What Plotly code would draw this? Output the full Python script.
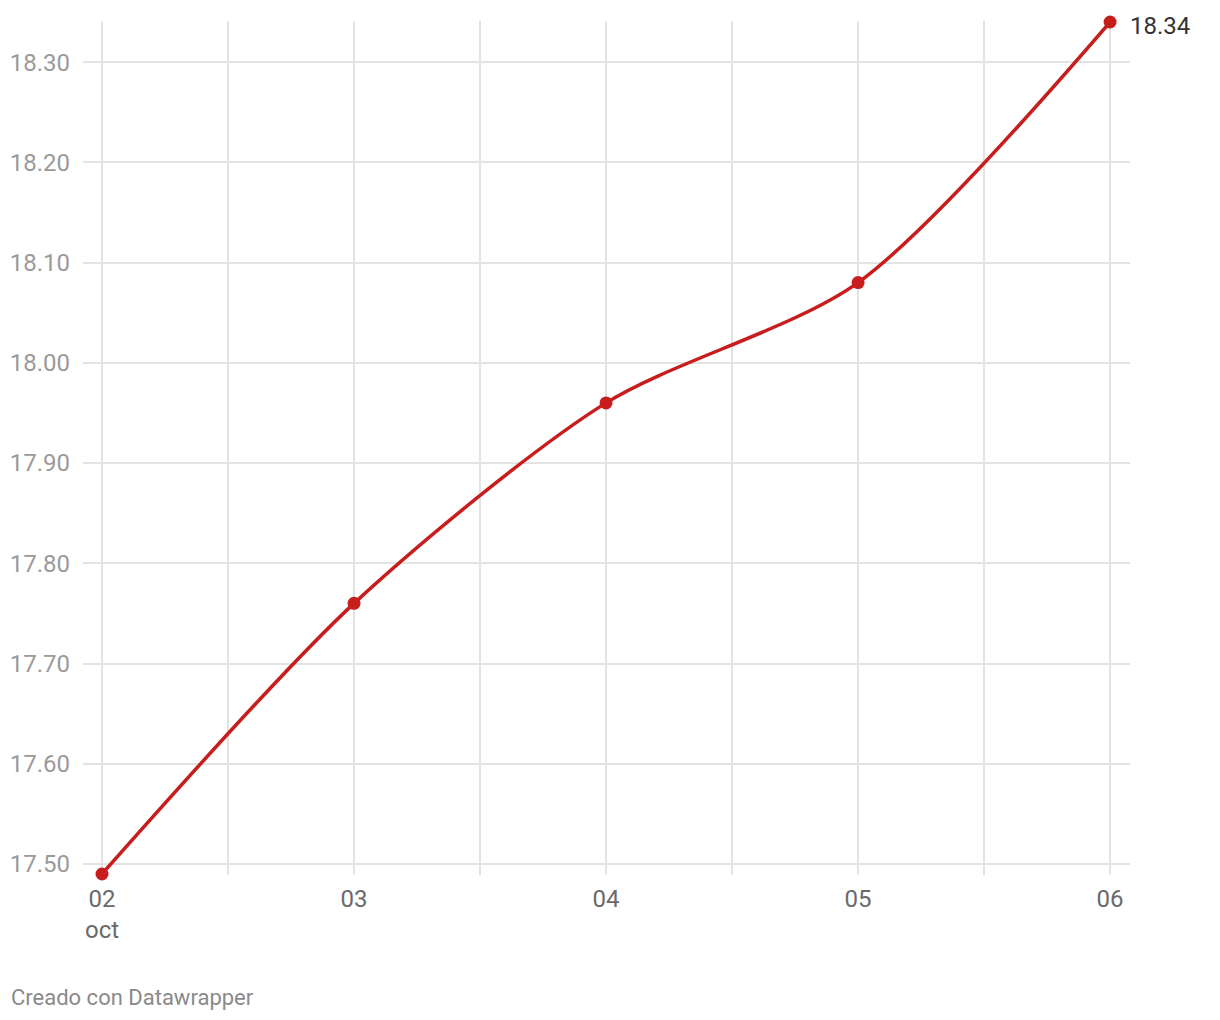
import plotly.graph_objects as go

days = ["02", "03", "04", "05", "06"]
values = [17.49, 17.76, 17.96, 18.08, 18.34]
y_ticks = [17.5, 17.6, 17.7, 17.8, 17.9, 18.0, 18.1, 18.2, 18.3]
y_ticktext = ["17.50", "17.60", "17.70", "17.80", "17.90", "18.00", "18.10", "18.20", "18.30"]
x_ticktext = ["02<br>oct", "03", "04", "05", "06"]

xpos = list(range(len(days)))
RED = "#c71e1d"

fig = go.Figure()
fig.add_trace(go.Scatter(
    x=xpos, y=values, mode="lines+markers",
    line=dict(color=RED, width=3.5, shape="spline", smoothing=0.8),
    marker=dict(color=RED, size=13),
    cliponaxis=False, hoverinfo="skip", showlegend=False,
))

# x tick positions: labels at each day, unlabeled gridlines halfway
x_tickvals = []
x_labels = []
for i in xpos:
    x_tickvals.append(i)
    x_labels.append(x_ticktext[i])
    if i < len(xpos) - 1:
        x_tickvals.append(i + 0.5)
        x_labels.append("")

fig.update_layout(
    width=1220, height=1020,
    paper_bgcolor="white", plot_bgcolor="white",
    margin=dict(l=75, r=98, t=13, b=153, autoexpand=False),
    font=dict(family="Roboto", size=24, color="#666"),
    xaxis=dict(
        range=[-0.0754, 4.079], tickvals=x_tickvals, ticktext=x_labels,
        showgrid=True, gridcolor="#e3e3e3", gridwidth=2, zeroline=False,
        showline=False, ticks="", ticklabelstandoff=7, automargin=False,
        tickfont=dict(size=24, color="#6a6a6a"),
        fixedrange=True,
    ),
    yaxis=dict(
        range=[17.489, 18.341], tickvals=y_ticks, ticktext=y_ticktext,
        showgrid=True, gridcolor="#e3e3e3", gridwidth=2, zeroline=False,
        showline=False, ticks="", ticklabelstandoff=12, automargin=False,
        tickfont=dict(size=24, color="#9a9a9a"), fixedrange=True,
    ),
)

fig.add_annotation(
    x=xpos[-1], y=values[-1], xref="x", yref="y",
    text=f"{values[-1]:.2f}", showarrow=False, xanchor="left", yanchor="middle",
    xshift=18, yshift=-4, font=dict(size=24, color="#333"),
)

fig.add_annotation(
    x=0, y=0, xref="paper", yref="paper", xanchor="left", yanchor="middle",
    text="Creado con Datawrapper", showarrow=False,
    xshift=-74, yshift=-122, font=dict(size=22, color="#8a8a8a"),
)

fig.write_html("out.html")
